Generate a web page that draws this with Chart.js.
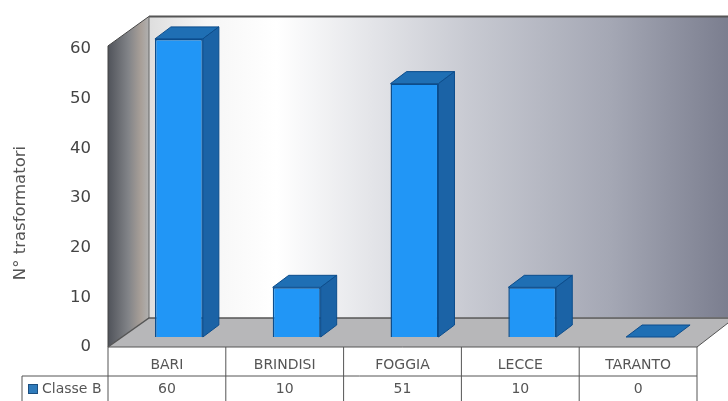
<!DOCTYPE html>
<html><head><meta charset="utf-8">
<script src="https://cdn.jsdelivr.net/npm/chart.js@4"></script>
<style>html,body{margin:0;padding:0;background:#fff;overflow:hidden}canvas{display:block;filter:blur(.6px)}</style>
</head><body><canvas id="c" width="728" height="401"></canvas>
<script>
const categories = ["BARI","BRINDISI","FOGGIA","LECCE","TARANTO"];
const seriesName = "Classe B";
const seriesValues = [60,10,51,10,0];
const yAxisTitle = "N° trasformatori";
const FONT = '"DejaVu Sans", sans-serif';
const TEXT = '#555';

const box3d = {
  id:'box3d',
  beforeDatasetsDraw(chart){
    const c = chart.ctx, y0 = chart.scales.y.getPixelForValue(0), y60 = chart.scales.y.getPixelForValue(60);
    const bottomF = y0+10, topF = y60+7, bx = 41, by = 29, wallTop = topF-by-0.5;
    const L = 108, R = 697;
    c.save();
    let g = c.createLinearGradient(L+bx,0,728,0);
    g.addColorStop(0,'#dedede');g.addColorStop(.1,'#f6f6f6');g.addColorStop(.22,'#ffffff');
    g.addColorStop(.55,'#c8cad2');g.addColorStop(.8,'#a4a7b4');g.addColorStop(1,'#7b7e8f');
    c.fillStyle=g;c.fillRect(L+bx,wallTop,728-L-bx,bottomF-topF);
    c.strokeStyle='#555';c.lineWidth=2;
    c.beginPath();c.moveTo(L+bx,wallTop);c.lineTo(728,wallTop);c.stroke();
    g = c.createLinearGradient(L,0,L+bx,0);
    g.addColorStop(0,'#50535a');g.addColorStop(.5,'#828488');g.addColorStop(.8,'#a89f98');g.addColorStop(1,'#b0b0b0');
    c.fillStyle=g;c.beginPath();c.moveTo(L,topF);c.lineTo(L+bx,wallTop);c.lineTo(L+bx,bottomF-by);c.lineTo(L,bottomF);c.closePath();c.fill();
    c.strokeStyle='#444';c.lineWidth=1;
    c.beginPath();c.moveTo(L,bottomF);c.lineTo(L,topF);c.lineTo(L+bx,wallTop);c.stroke();
    c.strokeStyle='#666';c.beginPath();c.moveTo(L+bx,wallTop);c.lineTo(L+bx,bottomF-by);c.stroke();
    c.fillStyle='#b7b7b9';c.beginPath();c.moveTo(L,bottomF);c.lineTo(L+bx,bottomF-by);c.lineTo(728,bottomF-by);c.lineTo(728,bottomF-by+5);c.lineTo(R,bottomF);c.closePath();c.fill();
    c.strokeStyle='#555';c.lineWidth=1.5;
    c.beginPath();c.moveTo(L,bottomF);c.lineTo(L+bx,bottomF-by);c.lineTo(728,bottomF-by);c.stroke();
    c.lineWidth=1;
    c.beginPath();c.moveTo(R,bottomF);c.lineTo(728,bottomF-by+5);c.stroke();
    c.restore();
  },
  afterDatasetsDraw(chart){
    const c = chart.ctx, dx = 16, dy = 12;
    const bars = chart.getDatasetMeta(0).data;
    c.save();c.lineWidth=1;c.strokeStyle='#0c4d8c';c.lineJoin='round';
    bars.forEach(b=>{
      const l=b.x-b.width/2, r=b.x+b.width/2, t=b.y, bot=b.base;
      c.fillStyle='#1f6fb4';
      c.beginPath();c.moveTo(l,t);c.lineTo(l+dx,t-dy);c.lineTo(r+dx,t-dy);c.lineTo(r,t);c.closePath();c.fill();c.stroke();
      if(bot-t>0.5){
        c.fillStyle='#1b63a6';
        c.beginPath();c.moveTo(r,t);c.lineTo(r+dx,t-dy);c.lineTo(r+dx,bot-dy);c.lineTo(r,bot);c.closePath();c.fill();c.stroke();
      }
    });
    c.restore();
  },
  afterDraw(chart){
    const c = chart.ctx, L=108, R=697, T=chart.scales.y.getPixelForValue(0)+10, M=T+29, B=401, leg=22;
    const colW=(R-L)/categories.length;
    c.save();
    c.strokeStyle='#555';c.lineWidth=1;
    c.beginPath();
    c.moveTo(L,T);c.lineTo(R,T);
    c.moveTo(leg,M);c.lineTo(R,M);
    c.moveTo(leg,M);c.lineTo(leg,B);
    for(let i=0;i<=categories.length;i++){c.moveTo(L+i*colW,T);c.lineTo(L+i*colW,B);}
    c.stroke();
    c.fillStyle=TEXT;c.font='14px '+FONT;c.textBaseline='middle';c.textAlign='center';
    seriesValues.forEach((v,i)=>c.fillText(String(v),L+(i+.5)*colW,M+13));
    c.fillStyle='#2f7bbb';c.fillRect(28,M+8,10,10);c.strokeStyle='#1c4f80';c.strokeRect(28.5,M+8.5,9,9);
    c.fillStyle=TEXT;c.textAlign='left';c.fillText(seriesName,42,M+13);
    c.translate(21,213);c.rotate(-Math.PI/2);c.textAlign='center';c.font='16.5px '+FONT;c.fillText(yAxisTitle,0,0);
    c.restore();
  }
};

new Chart(document.getElementById('c'),{
  type:'bar',
  data:{labels:categories,datasets:[{label:seriesName,data:seriesValues,backgroundColor:'#2196f6',borderColor:'#0c4d8c',borderWidth:1.5,barPercentage:.407,categoryPercentage:1}]},
  options:{
    responsive:false,animation:false,devicePixelRatio:1,
    layout:{padding:{top:38,right:19,left:0,bottom:0}},
    plugins:{legend:{display:false},title:{display:false},tooltip:{enabled:false}},
    scales:{
      x:{grid:{display:false,drawTicks:false},border:{display:false},
         afterFit(s){s.height=64;},
         ticks:{color:TEXT,font:{family:FONT,size:14},padding:20,labelOffset:-12,maxRotation:0,autoSkip:false}},
      y:{min:0,max:60,grid:{display:false,drawTicks:false},border:{display:false},
         afterFit(s){s.width=120;},
         ticks:{stepSize:10,color:'#444',font:{family:FONT,size:16.5},padding:29,labelOffset:10}}
    }
  },
  plugins:[box3d]
});
</script></body></html>
